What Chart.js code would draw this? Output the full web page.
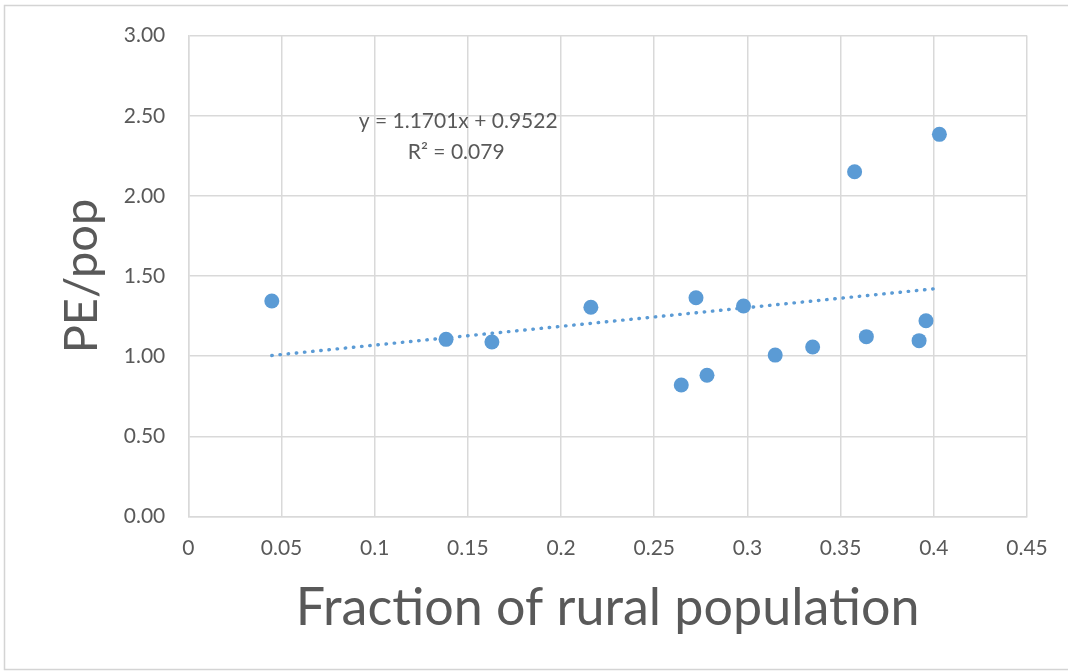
<!DOCTYPE html>
<html>
<head>
<meta charset="utf-8">
<script src="https://cdn.jsdelivr.net/npm/chart.js@4.4.1/dist/chart.umd.min.js"></script>
<style>
  html, body { margin: 0; padding: 0; background: #ffffff; }
  canvas { display: block; }
</style>
</head>
<body>
<canvas id="chart" width="1068" height="672"></canvas>
<script>
// Observations: share of rural population vs. PE per capita
const ruralFraction = [0.0448, 0.1383, 0.1629, 0.2160, 0.2645, 0.2724, 0.2783, 0.2979, 0.3149, 0.3350, 0.3575, 0.3638, 0.3921, 0.3958, 0.4030];
const pePerPop      = [1.344, 1.105, 1.089, 1.305, 0.820, 1.365, 0.881, 1.313, 1.007, 1.057, 2.151, 1.122, 1.097, 1.221, 2.384];

// Axis tick labels
const xTickLabels = ['0', '0.05', '0.1', '0.15', '0.2', '0.25', '0.3', '0.35', '0.4', '0.45'];
const yTickLabels = ['0.00', '0.50', '1.00', '1.50', '2.00', '2.50', '3.00'];

// Linear trend line fitted to the observations
const trendSlope = 1.1701;
const trendIntercept = 0.9522;
const trendR2 = 0.079;

const BLUE = '#5B9BD5';
const TEXT = '#595959';
const GRID = '#d9d9d9';
const FONT = 'Lato, "Open Sans", sans-serif';

const points = ruralFraction.map((x, i) => ({ x: x, y: pePerPop[i] }));
const xMin = Math.min(...ruralFraction);
const xMax = Math.max(...ruralFraction);
const trendPoints = [xMin, xMax].map(x => ({ x: x, y: trendSlope * x + trendIntercept }));

const equationLines = [
  'y = ' + trendSlope.toFixed(4) + 'x + ' + trendIntercept.toFixed(4),
  'R\u00B2 = ' + trendR2.toFixed(3)
];

// White page with a thin frame around the chart
const framePlugin = {
  id: 'frame',
  beforeDraw(chart) {
    const ctx = chart.ctx;
    ctx.save();
    ctx.fillStyle = '#ffffff';
    ctx.fillRect(0, 0, chart.width, chart.height);
    ctx.strokeStyle = '#d4d4d4';
    ctx.lineWidth = 1.5;
    ctx.strokeRect(4.5, 5.5, chart.width + 20, chart.height - 8);
    ctx.restore();
  }
};

// Trend equation label
const equationPlugin = {
  id: 'equation',
  afterDatasetsDraw(chart) {
    const ctx = chart.ctx;
    const xs = chart.scales.x, ys = chart.scales.y;
    const cx = xs.getPixelForValue(0.1448);
    const cy = ys.getPixelForValue(2.467);
    ctx.save();
    ctx.fillStyle = TEXT;
    ctx.font = '21px ' + FONT;
    ctx.textAlign = 'center';
    ctx.textBaseline = 'middle';
    ctx.fillText(equationLines[0], cx, cy);
    ctx.fillText(equationLines[1], cx - 2, cy + 31);
    ctx.restore();
  }
};

new Chart(document.getElementById('chart'), {
  type: 'scatter',
  data: {
    datasets: [
      {
        label: 'PE/pop',
        data: points,
        backgroundColor: BLUE,
        borderColor: BLUE,
        borderWidth: 0,
        pointRadius: 7.5,
        pointHoverRadius: 7.5,
        order: 1
      },
      {
        type: 'line',
        label: 'Linear trend',
        data: trendPoints,
        borderColor: BLUE,
        borderWidth: 3.4,
        borderDash: [0.5, 7.7],
        borderCapStyle: 'round',
        pointRadius: 0,
        fill: false,
        order: 2
      }
    ]
  },
  options: {
    responsive: false,
    animation: false,
    devicePixelRatio: 1,
    layout: { padding: { left: 0, top: 35.5, right: 41, bottom: 0 } },
    plugins: {
      legend: { display: false },
      tooltip: { enabled: false }
    },
    scales: {
      x: {
        type: 'linear',
        min: 0,
        max: 0.45,
        afterBuildTicks: s => { s.ticks = xTickLabels.map(t => ({ value: parseFloat(t) })); },
        afterFit: s => { s.height = 155.5; },
        grid: { color: GRID, lineWidth: 1.5, drawTicks: false },
        border: { color: GRID, width: 1.5 },
        ticks: {
          padding: 19,
          color: TEXT,
          font: { family: FONT, size: 21 },
          maxRotation: 0,
          callback: (v, i) => xTickLabels[i]
        },
        title: {
          display: true,
          text: 'Fraction of rural population',
          color: TEXT,
          font: { family: FONT, size: 52 },
          padding: { top: 0, bottom: 33 }
        }
      },
      y: {
        type: 'linear',
        min: 0,
        max: 3,
        afterBuildTicks: s => { s.ticks = yTickLabels.map(t => ({ value: parseFloat(t) })); },
        afterFit: s => { s.width = 188.3; },
        grid: { color: GRID, lineWidth: 1.5, drawTicks: false },
        border: { color: GRID, width: 1.5 },
        ticks: {
          padding: 23,
          color: TEXT,
          font: { family: FONT, size: 21 },
          callback: (v, i) => yTickLabels[i]
        },
        title: {
          display: true,
          text: 'PE/pop',
          color: TEXT,
          font: { family: FONT, size: 47 },
          padding: { top: 54, bottom: 0 }
        }
      }
    }
  },
  plugins: [framePlugin, equationPlugin]
});
</script>
</body>
</html>
